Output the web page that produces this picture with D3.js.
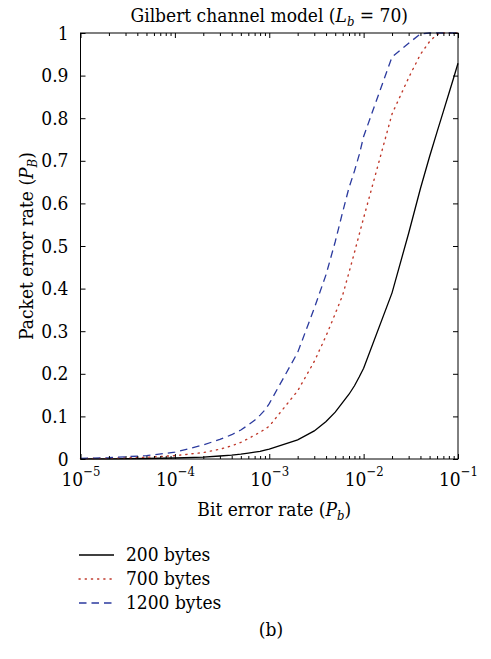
<!DOCTYPE html>
<html>
<head>
<meta charset="utf-8">
<script src="https://cdn.jsdelivr.net/npm/d3@7"></script>
<style>
  body { margin: 0; background: #fff; }
  svg text { font-family: "DejaVu Serif Condensed", "DejaVu Serif", serif; font-stretch: condensed; fill: #000; }
</style>
</head>
<body>
<svg id="chart" width="491" height="659"></svg>
<script>
// Bit error rate samples (x) shared by all packet sizes
const bitErrorRate = [1e-5, 2e-5, 5e-5, 1e-4, 2e-4, 3e-4, 4e-4, 5e-4, 6e-4, 7e-4, 8e-4, 9e-4,
  1e-3, 2e-3, 3e-3, 4e-3, 5e-3, 6e-3, 7e-3, 8e-3, 9e-3,
  1e-2, 2e-2, 3e-2, 4e-2, 5e-2, 6e-2, 7e-2, 8e-2, 9e-2, 1e-1];

// Packet error rate for each packet size
const per200 = [0.0002, 0.0005, 0.0012, 0.0023, 0.0046, 0.007, 0.009, 0.0115, 0.014, 0.016, 0.018, 0.021,
  0.023, 0.045, 0.066, 0.088, 0.11, 0.133, 0.152, 0.172, 0.193,
  0.213, 0.39, 0.53, 0.635, 0.71, 0.768, 0.816, 0.858, 0.895, 0.929];
const per700 = [0.0008, 0.0016, 0.004, 0.008, 0.015, 0.023, 0.031, 0.039, 0.048, 0.056, 0.063, 0.07,
  0.077, 0.16, 0.229, 0.289, 0.341, 0.385, 0.438, 0.485, 0.528,
  0.566, 0.81, 0.895, 0.95, 0.98, 0.997, 1, 1, 1, 1];
const per1200 = [0.0015, 0.003, 0.008, 0.016, 0.033, 0.046, 0.057, 0.068, 0.08, 0.091, 0.103, 0.115,
  0.13, 0.25, 0.354, 0.433, 0.51, 0.58, 0.637, 0.676, 0.715,
  0.757, 0.944, 0.976, 0.998, 1, 1, 1, 1, 1, 1];

const seriesNames = ["200 bytes", "700 bytes", "1200 bytes"];
const xTickExponents = [-5, -4, -3, -2, -1];
const yTickValues = [0, 0.1, 0.2, 0.3, 0.4, 0.5, 0.6, 0.7, 0.8, 0.9, 1];

const series = [
  { name: seriesNames[0], values: per200,  color: "#000000", dash: null,    width: 1.3, dotted: false },
  { name: seriesNames[1], values: per700,  color: "#c0392b", dash: "1.2,5", width: 1.4, dotted: true },
  { name: seriesNames[2], values: per1200, color: "#2b3a9e", dash: "7.5,5", width: 1.3, dotted: false }
];

const FONT = 19;
const SUB = 13;

const svg = d3.select("#chart");
const plot = { left: 80.5, right: 458, top: 33, bottom: 459 };

const x = d3.scaleLog().domain([1e-5, 1e-1]).range([plot.left, plot.right]);
const y = d3.scaleLinear().domain([0, 1]).range([plot.bottom, plot.top]);

const majorX = xTickExponents.map(e => Math.pow(10, e));
const minorX = [];
for (let e = -5; e < -1; e++) for (let m = 2; m <= 9; m++) minorX.push(m * Math.pow(10, e));

// Curves
const line = d3.line().x(d => x(d[0])).y(d => y(d[1]));
series.forEach(s => {
  svg.append("path")
    .datum(bitErrorRate.map((b, i) => [b, s.values[i]]))
    .attr("d", line)
    .attr("fill", "none")
    .attr("stroke", s.color)
    .attr("stroke-width", s.width)
    .attr("stroke-dasharray", s.dash)
    .attr("stroke-linecap", s.dotted ? "round" : "butt");
});

// Inward ticks on all four sides
function styleAxis(g) {
  g.attr("font-family", null).attr("font-size", null);
  g.select(".domain").remove();
  g.selectAll(".tick line").attr("stroke", "#000").attr("stroke-width", 1);
}
svg.append("g").attr("transform", `translate(0,${plot.bottom})`)
  .call(d3.axisBottom(x).tickValues(minorX).tickSize(-3).tickFormat(""))
  .call(styleAxis);
svg.append("g").attr("transform", `translate(0,${plot.top})`)
  .call(d3.axisTop(x).tickValues(minorX).tickSize(-3).tickFormat(""))
  .call(styleAxis);
svg.append("g").attr("transform", `translate(0,${plot.top})`)
  .call(d3.axisTop(x).tickValues(majorX).tickSize(-5).tickFormat(""))
  .call(styleAxis);
svg.append("g").attr("transform", `translate(${plot.right},0)`)
  .call(d3.axisRight(y).tickValues(yTickValues).tickSize(-5).tickFormat(""))
  .call(styleAxis);

// Bottom axis with 10^n labels
const xAxisG = svg.append("g").attr("transform", `translate(0,${plot.bottom})`)
  .call(d3.axisBottom(x).tickValues(majorX).tickSize(-5).tickFormat(""))
  .call(styleAxis);
xAxisG.selectAll(".tick").each(function(d) {
  const t = d3.select(this).select("text")
    .attr("font-size", FONT).attr("y", 27).attr("dy", null)
    .attr("text-anchor", "middle").attr("fill", "#000");
  t.append("tspan").text("10");
  t.append("tspan").attr("font-size", SUB).attr("dy", -10)
    .text("\u2212" + Math.abs(Math.round(Math.log10(d))));
});

// Left axis
svg.append("g").attr("transform", `translate(${plot.left},0)`)
  .call(d3.axisLeft(y).tickValues(yTickValues).tickSize(-5).tickPadding(12).tickFormat(d3.format("~g")))
  .call(styleAxis)
  .selectAll("text")
  .attr("font-size", FONT).attr("fill", "#000");

// Plot frame
svg.append("rect")
  .attr("x", plot.left).attr("y", plot.top)
  .attr("width", plot.right - plot.left).attr("height", plot.bottom - plot.top)
  .attr("fill", "none").attr("stroke", "#000").attr("stroke-width", 1);

// Title
const title = svg.append("text")
  .attr("x", (plot.left + plot.right) / 2).attr("y", 22)
  .attr("text-anchor", "middle").attr("font-size", FONT);
title.append("tspan").text("Gilbert channel model (");
title.append("tspan").attr("font-style", "italic").text("L");
title.append("tspan").attr("font-style", "italic").attr("font-size", SUB).attr("dy", 4).text("b");
title.append("tspan").attr("dy", -4).text(" = 70)");

// X axis label
const xLabel = svg.append("text")
  .attr("x", (plot.left + plot.right) / 2 + 5).attr("y", 516)
  .attr("text-anchor", "middle").attr("font-size", FONT);
xLabel.append("tspan").text("Bit error rate (");
xLabel.append("tspan").attr("font-style", "italic").text("P");
xLabel.append("tspan").attr("font-style", "italic").attr("font-size", SUB).attr("dy", 4).text("b");
xLabel.append("tspan").attr("dy", -4).text(")");

// Y axis label
const yLabel = svg.append("text")
  .attr("transform", `translate(33,${(plot.top + plot.bottom) / 2}) rotate(-90)`)
  .attr("text-anchor", "middle").attr("font-size", FONT);
yLabel.append("tspan").text("Packet error rate (");
yLabel.append("tspan").attr("font-style", "italic").text("P");
yLabel.append("tspan").attr("font-style", "italic").attr("font-size", SUB).attr("dy", 4).text("B");
yLabel.append("tspan").attr("dy", -4).text(")");

// Legend
const legend = svg.append("g").attr("transform", "translate(79,555)");
series.forEach((s, i) => {
  const row = legend.append("g").attr("transform", `translate(0,${i * 24})`);
  row.append("line")
    .attr("x1", 0).attr("x2", 35).attr("y1", 0).attr("y2", 0)
    .attr("stroke", s.color).attr("stroke-width", s.width)
    .attr("stroke-dasharray", s.dash)
    .attr("stroke-linecap", s.dotted ? "round" : "butt");
  row.append("text").attr("x", 47).attr("y", 6).attr("font-size", FONT).text(s.name);
});

// Panel label
svg.append("text").attr("x", 271).attr("y", 636)
  .attr("text-anchor", "middle").attr("font-size", FONT).text("(b)");
</script>
</body>
</html>
